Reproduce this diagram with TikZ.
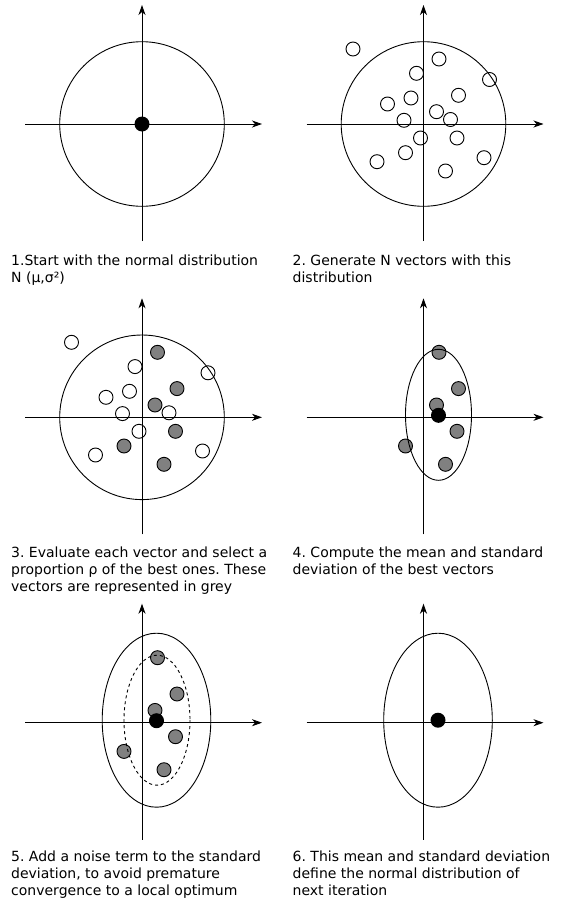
\documentclass[tikz,border=0pt]{standalone}
\usepackage{fontspec}
\setmainfont{DejaVu Sans}
\usetikzlibrary{arrows.meta}

\begin{document}
\begin{tikzpicture}[
        x=1pt, y=-1pt,
        axis/.style={->, line width=0.9pt, >={Stealth[length=10pt, width=7pt, inset=3pt]}},
        pdf/.style={line width=0.9pt},
        sample/.style={circle, draw, line width=0.9pt, inner sep=0pt, minimum size=14pt},
        best/.style={sample, fill=gray},
        mean/.style={circle, fill=black, inner sep=0pt, minimum size=15pt},
        caption/.style={anchor=north west, align=left, inner sep=0pt, font=\fontsize{14}{17}\selectfont\frenchspacing}
    ]
        \useasboundingbox (0,0) rectangle (573,905);

        % Panel 1: start distribution
        \begin{scope}[shift={(142,124)}]
            \draw[axis] (-117,0) -- (120,0);
            \draw[axis] (0,117) -- (0,-119);
            \draw[pdf] (0,0) circle [radius=82.3];
            \node[mean] (m1) at (0,0) {};
        \end{scope}
        \node[caption] (cap1) at (11,254.4) {1.Start with the normal distribution\\N (μ,σ²)};

        % Panel 2: sampled vectors
        \begin{scope}[shift={(423.5,124)}]
            \draw[axis] (-117,0) -- (120,0);
            \draw[axis] (0,117) -- (0,-119);
            \draw[pdf] (0,0) circle [radius=82.3];
            \foreach \n/\px/\py in {1/-70.5/-75, 2/15.5/-65, 3/-7/-50.7, 4/66/-44.5,
                    5/35/-28.7, 6/-12.5/-26, 7/-36/-20, 8/13/-12.3, 9/-19.5/-3.7,
                    10/27/-4.5, 11/-3/14, 12/33.5/14, 13/-18/28.7, 14/60.5/33.7,
                    15/-46.5/37.7, 16/22/47}
                \node[sample] (b\n) at (\px,\py) {};
        \end{scope}
        \node[caption] (cap2) at (292.5,254.4) {2. Generate N vectors with this\\distribution};

        % Panel 3: selection of the best ones
        \begin{scope}[shift={(142,417.3)}]
            \draw[axis] (-117,0) -- (120,0);
            \draw[axis] (0,117) -- (0,-119);
            \draw[pdf] (0,0) circle [radius=82.3];
            \foreach \n/\px/\py in {1/-70.5/-75, 3/-7/-50.7, 4/66/-44.5, 6/-12.5/-26,
                    7/-36/-20, 9/-19.5/-3.7, 10/27/-4.5, 11/-3/14, 14/60.5/33.7,
                    15/-46.5/37.7}
                \node[sample] (c\n) at (\px,\py) {};
            \foreach \n/\px/\py in {2/15.5/-65, 5/35/-28.7, 8/13/-12.3, 12/33.5/14,
                    13/-18/28.7, 16/22/47}
                \node[best] (c\n) at (\px,\py) {};
        \end{scope}
        \node[caption] (cap3) at (11,547) {3. Evaluate each vector and select a\\proportion ρ of the best ones. These\\vectors are represented in grey};

        % Panel 4: mean and deviation of the best
        \begin{scope}[shift={(423.5,417.3)}]
            \draw[axis] (-117,0) -- (120,0);
            \draw[axis] (0,117) -- (0,-119);
            \foreach \n/\px/\py in {2/15.5/-65, 5/35/-28.7, 8/13/-12.3, 12/33.5/14,
                    13/-18/28.7, 16/22/47}
                \node[best] (d\n) at (\px,\py) {};
            \draw[pdf] (15,-2.5) ellipse [x radius=33, y radius=65.5];
            \node[mean] (m4) at (15,-2) {};
        \end{scope}
        \node[caption] (cap4) at (292.5,546.5) {4. Compute the mean and standard\\deviation of the best vectors};

        % Panel 5: noise term
        \begin{scope}[shift={(142,722.7)}]
            \draw[axis] (-117,0) -- (120,0);
            \draw[axis] (0,117) -- (0,-119);
            \foreach \n/\px/\py in {2/15.5/-65, 5/35/-28.7, 8/13/-12.3, 12/33.5/14,
                    13/-18/28.7, 16/22/47}
                \node[best] (e\n) at (\px,\py) {};
            \draw[pdf, dashed] (15,-2.5) ellipse [x radius=33, y radius=65];
            \draw[pdf] (14.5,-2.5) ellipse [x radius=54.3, y radius=87];
            \node[mean] (m5) at (14.5,-2) {};
        \end{scope}
        \node[caption] (cap5) at (11,851) {5. Add a noise term to the standard\\deviation, to avoid premature\\convergence to a local optimum};

        % Panel 6: next distribution
        \begin{scope}[shift={(423.5,722.7)}]
            \draw[axis] (-117,0) -- (120,0);
            \draw[axis] (0,117) -- (0,-119);
            \draw[pdf] (14.5,-2.5) ellipse [x radius=54.3, y radius=87];
            \node[mean] (m6) at (14.5,-2.5) {};
        \end{scope}
        \node[caption] (cap6) at (292.5,851) {6. This mean and standard deviation\\define the normal distribution of\\next iteration};
    \end{tikzpicture}
\end{document}
